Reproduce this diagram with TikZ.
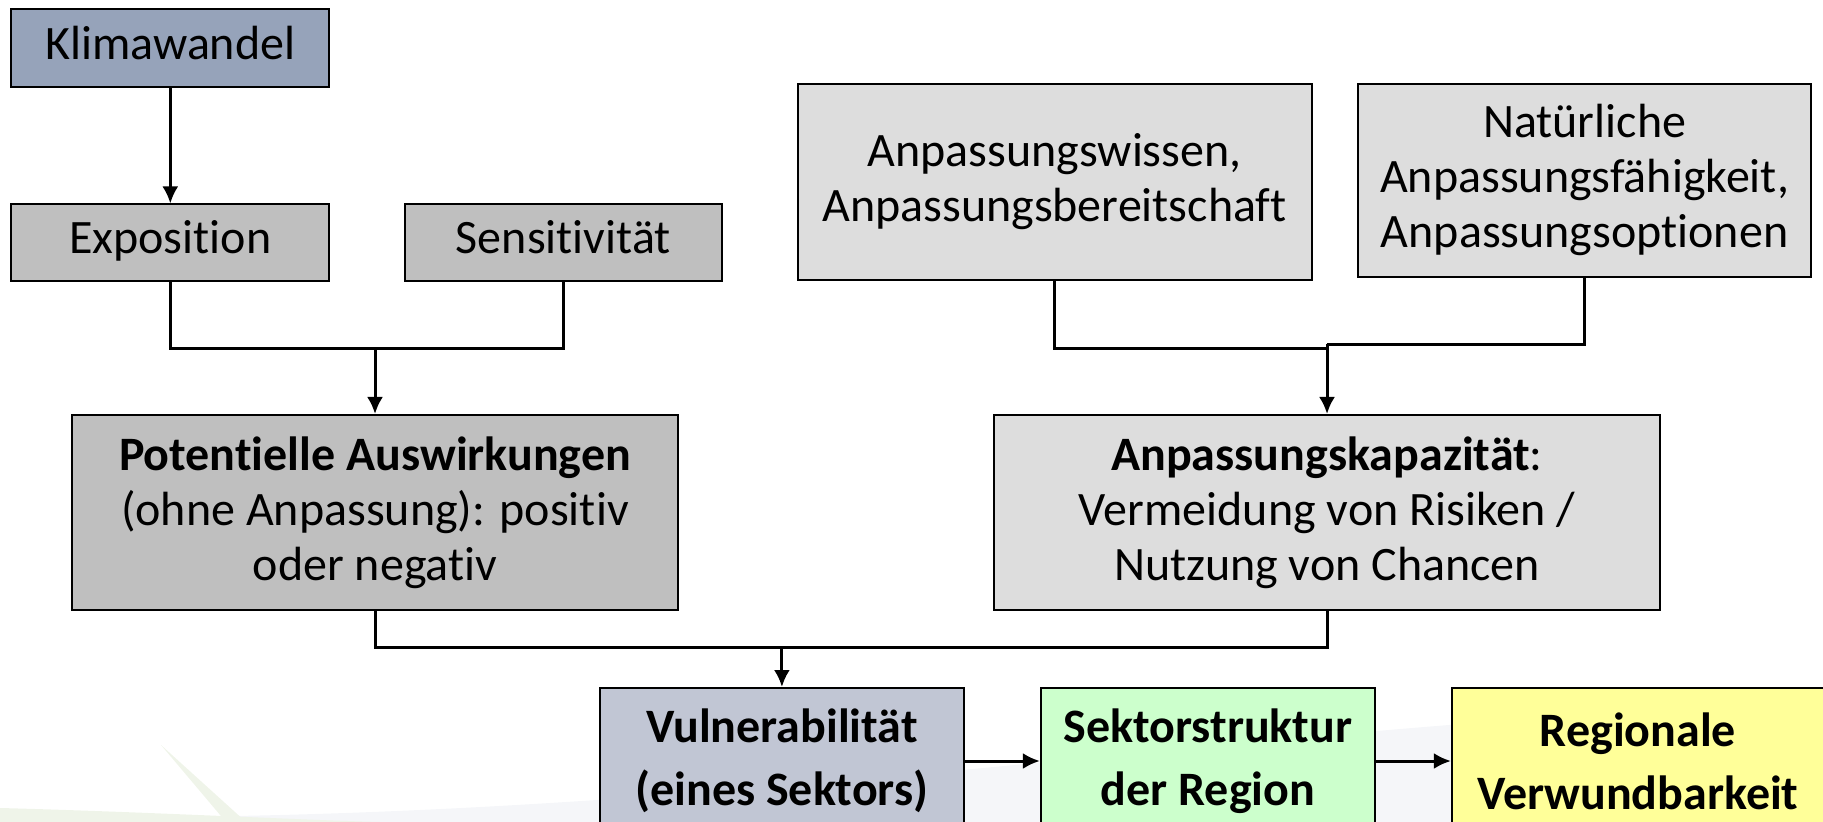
\documentclass[tikz,border=0pt]{standalone}
\usepackage{fontspec}
\setmainfont{Carlito}[RawFeature=-liga]
\usepackage{tikz}
\usetikzlibrary{chains,positioning,arrows.meta}

\definecolor{klimablue}{RGB}{150,163,186}
\definecolor{midgray}{RGB}{191,191,191}
\definecolor{lightgray}{RGB}{221,221,221}
\definecolor{vulnblue}{RGB}{193,198,212}
\definecolor{sektorgreen}{RGB}{204,255,204}
\definecolor{regionyellow}{RGB}{255,255,153}
\definecolor{swooshgray}{RGB}{245,246,249}
\definecolor{swooshgreen}{RGB}{239,244,233}

\begin{document}
\begin{tikzpicture}[
x=0.5pt,y=-0.5pt,
mybox/.style={
  draw,
  line width=1pt,
  inner sep=0pt,
  align=center,
  font=\fontsize{24}{27.5}\selectfont
  },
oneline/.style={text height=16pt,text depth=5pt},
bottombox/.style={
  mybox,
  minimum height=73pt,
  font=\fontsize{24}{31.5}\selectfont\bfseries,
  on chain
  },
arr/.style={-{Latex[length=8.5pt,width=8pt]}},
every path/.append style={line width=1.5pt},
start chain=going right,
node distance=37.5pt
]
\useasboundingbox (0,0) rectangle (1823,822);
% background of the slide
\fill[swooshgray,line width=0pt] (0,816) .. controls (700,830) and (1300,712) .. (1823,706) -- (1823,822) -- (0,822) -- cycle;
\fill[swooshgreen,line width=0pt] (0,808) .. controls (150,812) and (300,820) .. (380,822) -- (0,822) -- cycle;
\fill[swooshgreen,line width=0pt] (161,745) -- (246,822) -- (226,822) -- cycle;

% left branch
\node[mybox,oneline,fill=klimablue,minimum width=159pt,minimum height=39pt] (klima) at (170.3,48.2) {Klimawandel};
\node[mybox,oneline,fill=midgray,minimum width=159pt,minimum height=38.5pt] (expo) at (170.3,243) {Exposition};
\node[mybox,oneline,fill=midgray,minimum width=158.7pt,minimum height=38.5pt] (sens) at (563.3,243) {Sensitivität};
\node[mybox,fill=midgray,minimum width=303pt,minimum height=97.7pt] (pot) at (375,512.7)
  {\textbf{Potentielle Auswirkungen}\\(ohne Anpassung): positiv\\oder negativ};

% right branch
\node[mybox,fill=lightgray,minimum width=257pt,minimum height=98.3pt] (wissen) at (1054.5,182) 
  {Anpassungswissen,\\Anpassungsbereitschaft};
\node[mybox,fill=lightgray,minimum width=226.7pt,minimum height=96.5pt] (natur) at (1584.6,180.2)
  {Natürliche\\Anpassungsfähigkeit,\\Anpassungsoptionen};
\node[mybox,fill=lightgray,minimum width=333pt,minimum height=97.7pt] (kap) at (1327,512.7)
  {\textbf{Anpassungskapazität}:\\Vermeidung von Risiken /\\Nutzung von Chancen};

% bottom row
\node[bottombox,fill=vulnblue,minimum width=182pt] (vuln) at (781.9,761)
  {Vulnerabilität\\(eines Sektors)};
\node[bottombox,fill=sektorgreen,minimum width=167pt] (sektor)
  {Sektorstruktur\\der Region};
\node[bottombox,fill=regionyellow,minimum width=186pt] (region)
  {Regionale\\Verwundbarkeit};

% junctions
\coordinate (jleft) at (pot.north |- 0,348.8);
\coordinate (jright) at (kap.north |- 0,348.5);
\coordinate (jright2) at (kap.north |- 0,344.5);
\coordinate (jbottom) at (vuln.north |- 0,647.6);

\draw[arr] (klima) -- (expo);
\draw (expo.south) |- (jleft) -| (sens.south);
\draw[arr] (jleft) -- (pot.north);
\draw (wissen.south) |- (jright);
\draw (natur.south) |- (jright2);
\draw[arr] (jright2) -- (kap.north);
\draw (pot.south) |- (jbottom) -| (kap.south);
\draw[arr] (jbottom) -- (vuln.north);
\path[arr]
(vuln) edge (sektor)
(sektor) edge (region);
\end{tikzpicture}
\end{document}
